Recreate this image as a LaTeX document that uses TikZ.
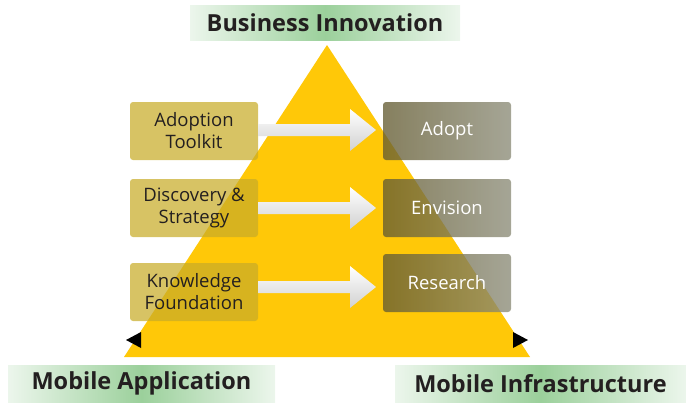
\documentclass[tikz,border=0pt]{standalone}
\usepackage{fontspec}
\setmainfont{Open Sans}
\definecolor{tri}{RGB}{255,200,8}
\definecolor{gdark}{RGB}{155,208,155}
\definecolor{glight}{RGB}{236,246,236}
\definecolor{lbox}{RGB}{200,172,40}
\definecolor{rdark}{RGB}{100,92,50}
\definecolor{rlight}{RGB}{140,140,120}
\definecolor{ink}{RGB}{35,31,32}
\begin{document}
\begin{tikzpicture}[x=1pt,y=-1pt,
  greenlab/.style={left color=glight,right color=glight,middle color=gdark,draw=none,inner sep=0pt,font=\bfseries\fontsize{23.5}{26}\selectfont,text=ink},
  lstep/.style={fill=lbox,fill opacity=0.72,text opacity=1,rounded corners=3pt,text=ink,align=center,font=\fontsize{18.5}{22}\selectfont,inner sep=0pt},
  rstep/.style={left color=rdark,right color=rlight,fill opacity=0.78,text opacity=1,rounded corners=3pt,text=white,align=center,font=\fontsize{18.5}{22}\selectfont,inner sep=0pt},
  bigarrow/.style={top color=white,bottom color=black!18,draw=none},
  tip/.style={fill=black}]
\useasboundingbox (0,0) rectangle (686,402);
% pyramid
\fill[tri] (327,45) -- (530,357) -- (124,357) -- cycle;
% side arrowheads
\fill[tip] (126,340) -- (141,332) -- (141,348) -- cycle;
\fill[tip] (528,340) -- (513,332) -- (513,348) -- cycle;
% labels
\node[greenlab,minimum width=270pt,minimum height=35pt] (bi) at (325,22.5) {Business Innovation};
\node[greenlab,minimum width=267pt,minimum height=37pt] (ma) at (141.5,383.5) {Mobile Application};
\node[greenlab,minimum width=291pt,minimum height=37pt] (mi) at (540.5,383.5) {Mobile Infrastructure};
% left boxes
\node[lstep,minimum width=128pt,minimum height=58pt] (at) at (194,131) {Adoption\\Toolkit};
\node[lstep,minimum width=128pt,minimum height=58pt] (ds) at (194,208) {Discovery \&\\Strategy};
\node[lstep,minimum width=128pt,minimum height=58pt] (kf) at (194,292) {Knowledge\\Foundation};
% right boxes
\node[rstep,minimum width=128pt,minimum height=58pt] (ad) at (447,131) {Adopt};
\node[rstep,minimum width=128pt,minimum height=58pt] (en) at (447,208) {Envision};
\node[rstep,minimum width=128pt,minimum height=58pt] (re) at (447,283) {Research};
% arrows
\foreach \a/\b/\y in {at/ad/130, ds/en/208, kf/re/287}{
  \path[bigarrow] (\a.east |- 0,\y-6) -- (350,\y-6) -- (350,\y-21) -- (376,\y) -- (350,\y+21) -- (350,\y+6) -- (\a.east |- 0,\y+6) -- cycle;
}
\end{tikzpicture}
\end{document}
